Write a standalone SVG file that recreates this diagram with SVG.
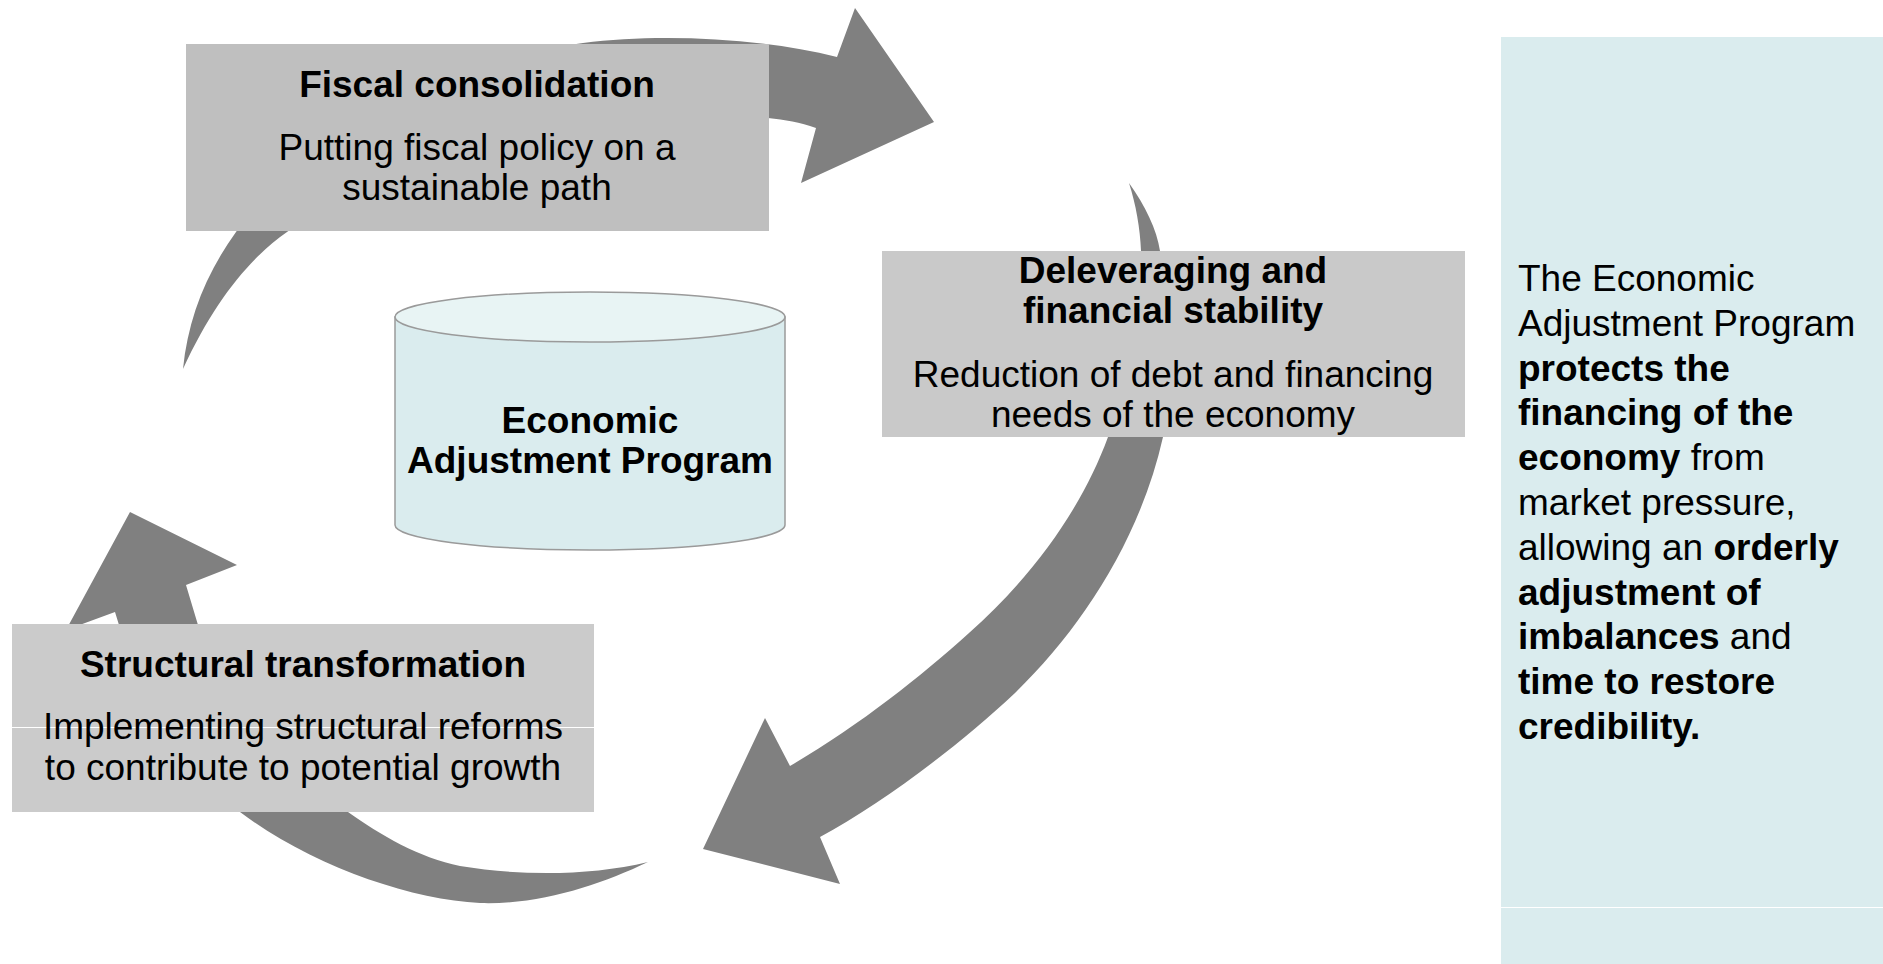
<svg xmlns="http://www.w3.org/2000/svg" width="1883" height="964" viewBox="0 0 1883 964">
  <style>
    text { font-family: "Liberation Sans", Arial, sans-serif; fill: #000; }
    .title { font-size: 37px; font-weight: bold; text-anchor: middle; }
    .sub { font-size: 37px; text-anchor: middle; }
    .panel { font-size: 37px; }
    .b { font-weight: bold; }
    .arrow { fill: #808080; stroke: none; }
    .box { stroke: none; }
    .seam { stroke: #ffffff; stroke-width: 1; }
  </style>
  <rect width="1883" height="964" fill="#ffffff"/>

  <!-- curved cycle arrows -->
  <g id="connectors">
    <path class="arrow" d="M183,369 C188,320 205,275 236,232 C300,140 450,60 583,43 C660,33 760,38 837,57 L855,8 L934,122 L801,183 L816,128 C800,122 785,120 768,118 C600,100 400,150 287,232 C250,258 215,300 183,369 Z"/>
    <path class="arrow" d="M1129,183 C1136,205 1140,228 1141,251 C1142,330 1128,395 1108,437 C1085,500 1040,570 969,633 C920,677 860,725 790,766 L765,718 L703,849 L840,884 L820,837 C880,805 960,745 1015,693 C1080,630 1140,540 1163,437 C1170,380 1168,300 1160,251 C1157,230 1145,205 1129,183 Z"/>
    <path class="arrow" d="M648,862 C600,885 540,905 480,903 C410,900 310,865 240,812 C175,765 125,690 119,625 L115,612 L66,630 L130,512 L237,565 L186,585 L198,625 C215,700 280,770 348,812 C380,835 420,858 460,866 C520,876 590,876 648,862 Z"/>
  </g>

  <g id="fiscal">
    <rect class="box" x="186" y="44" width="583" height="187" fill="#bfbfbf"/>
    <text class="title" x="477" y="97">Fiscal consolidation</text>
    <text class="sub" x="477" y="160">Putting fiscal policy on a</text>
    <text class="sub" x="477" y="200">sustainable path</text>
  </g>

  <g id="deleveraging">
    <rect class="box" x="882" y="251" width="583" height="186" fill="#c9c9c9"/>
    <text class="title" x="1173" y="283">Deleveraging and</text>
    <text class="title" x="1173" y="323">financial stability</text>
    <text class="sub" x="1173" y="387">Reduction of debt and financing</text>
    <text class="sub" x="1173" y="427">needs of the economy</text>
  </g>

  <g id="structural">
    <rect class="box" x="12" y="624" width="582" height="188" fill="#cbcbcb"/>
    <line class="seam" x1="12" y1="727.5" x2="594" y2="727.5"/>
    <text class="title" x="303" y="677">Structural transformation</text>
    <text class="sub" x="303" y="739">Implementing structural reforms</text>
    <text class="sub" x="303" y="780">to contribute to potential growth</text>
  </g>

  <g id="program">
    <path d="M395,317 L395,525 A195,25 0 0 0 785,525 L785,317 Z" fill="#daecee" stroke="#9a9a9a" stroke-width="1.5"/>
    <ellipse cx="590" cy="317" rx="195" ry="25" fill="#e8f4f4" stroke="#9a9a9a" stroke-width="1.5"/>
    <text class="title" x="590" y="433">Economic</text>
    <text class="title" x="590" y="473">Adjustment Program</text>
  </g>

  <g id="note">
    <rect x="1501" y="37" width="382" height="927" fill="#daecee"/>
    <line x1="1501" y1="907.5" x2="1883" y2="907.5" stroke="#ffffff" stroke-width="1"/>
    <text class="panel" x="1518" y="291">The Economic</text>
    <text class="panel" x="1518" y="336">Adjustment Program</text>
    <text class="panel b" x="1518" y="381">protects the</text>
    <text class="panel b" x="1518" y="425">financing of the</text>
    <text class="panel" x="1518" y="470"><tspan class="b">economy</tspan> from</text>
    <text class="panel" x="1518" y="515">market pressure,</text>
    <text class="panel" x="1518" y="560">allowing an <tspan class="b">orderly</tspan></text>
    <text class="panel b" x="1518" y="605">adjustment of</text>
    <text class="panel" x="1518" y="649"><tspan class="b">imbalances</tspan> and</text>
    <text class="panel b" x="1518" y="694">time to restore</text>
    <text class="panel b" x="1518" y="739">credibility.</text>
  </g>
</svg>
